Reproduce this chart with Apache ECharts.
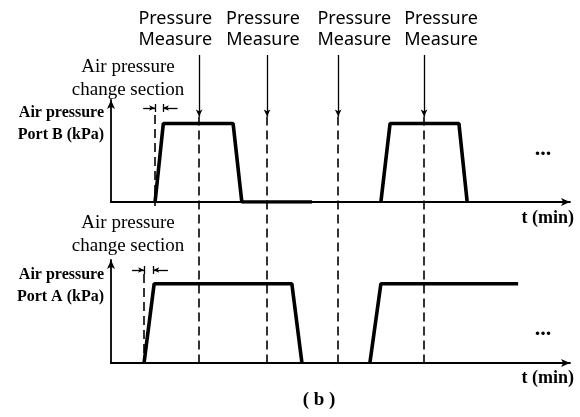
<!DOCTYPE html>
<html><head><meta charset="utf-8">
<script src="https://cdn.jsdelivr.net/npm/echarts@6/dist/echarts.min.js"></script>
<style>html,body{margin:0;padding:0;background:#fff}#c{width:580px;height:417px}</style>
</head><body><div id="c"></div>
<script>
// Time axis (arbitrary units, 0..100)
const tMax = 100;
const pMax = 1.3;
// Port B pressure trace (top panel): [t, level]
const portB1 = [[9.6,0],[11.4,1],[26.6,1],[28.5,0],[43.8,0]];
const portB2 = [[58.8,0],[60.8,1],[75.8,1],[77.6,0]];
// Port A pressure trace (bottom panel)
const portA = [[7.2,0],[9.4,1],[39.4,1],[41.6,0]];
const portA2 = [[56.4,0],[58.8,1],[88.7,1]];
// Measurement instants
const measureTimes = [19.2, 34.0, 49.5, 68.2];
const measureLabelTimes = [14.0, 33.1, 53.0, 71.9];
// Change-section bracket times
const changeB = [9.6, 11.3];
const changeA = [7.2, 9.2];
// overlay levels (fraction of overlay height, 0 = bottom baseline)
const lvlArrowTop = 1.0, lvlDashTop = 0.80;
const lvlBracketB = 0.828, lvlBracketA = 0.302;
const lvlChangeBBottom = 0.51, lvlChangeATop = 0.289;

const chart = echarts.init(document.getElementById('c'), null, {renderer:'canvas'});
const black = '#000';
const axisCommon = {
  axisTick:{show:false}, axisLabel:{show:false}, splitLine:{show:false},
};
function xAx(gi, show){
  return Object.assign({type:'value', gridIndex:gi, min:0, max:tMax, show:show,
    axisLine:{show:true, onZero:false, symbol:['none','arrow'], symbolSize:[6,9], lineStyle:{color:black, width:1.8}}}, axisCommon);
}
function yAx(gi, show, max){
  return Object.assign({type:'value', gridIndex:gi, min:0, max:max, show:show,
    axisLine:{show:true, symbol:['none','arrow'], symbolSize:[6,9], lineStyle:{color:black, width:1.8}}}, axisCommon);
}
const trace = (data, gi) => ({type:'line', xAxisIndex:gi, yAxisIndex:gi, data:data, symbol:'none',
  lineStyle:{color:black, width:3.6}, z:5});

const dashStyle = {color:black, width:1.6, type:[9,5]};
const mlData = [];
measureTimes.forEach(t=>{
  mlData.push([{coord:[t,lvlDashTop], symbol:'none', lineStyle:dashStyle},{coord:[t,0], symbol:'none'}]);
  mlData.push([{coord:[t,lvlArrowTop], symbol:'none', lineStyle:{color:black,width:1.3,type:'solid'}},{coord:[t,lvlDashTop], symbol:'arrow', symbolSize:[5,7]}]);
});
mlData.push([{coord:[changeB[0],lvlDashTop+0.005], symbol:'none', lineStyle:dashStyle},{coord:[changeB[0],lvlChangeBBottom], symbol:'none'}]);
mlData.push([{coord:[changeA[0],lvlChangeATop], symbol:'none', lineStyle:dashStyle},{coord:[changeA[0],0], symbol:'none'}]);
function bracket(c, lvl){
  const solid = {color:black,width:1.3,type:'solid'};
  const w = (c[1]-c[0]);
  mlData.push([{coord:[c[0],lvl+0.013], symbol:'none', lineStyle:solid},{coord:[c[0],lvl-0.013], symbol:'none'}]);
  mlData.push([{coord:[c[1],lvl+0.013], symbol:'none', lineStyle:solid},{coord:[c[1],lvl-0.013], symbol:'none'}]);
  mlData.push([{coord:[c[0]-2.6,lvl], symbol:'none', lineStyle:solid},{coord:[c[0],lvl], symbol:'arrow', symbolSize:[4,6]}]);
  mlData.push([{coord:[c[1]+3.2,lvl], symbol:'none', lineStyle:solid},{coord:[c[1],lvl], symbol:'arrow', symbolSize:[4,6]}]);
}
bracket(changeB, lvlBracketB);
bracket(changeA, lvlBracketA);

const sans = '"Noto Sans", sans-serif';
const serif = '"Liberation Serif", "Times New Roman", serif';
const graphics = [];
const measureX = measureLabelTimes.map(t => 111 + t*4.59);
measureX.forEach(x=>{
  graphics.push({type:'text', x:x, y:8, style:{text:'Pressure\nMeasure', font:'18px '+sans, fill:black, align:'center', verticalAlign:'top', lineHeight:21}});
});
graphics.push({type:'text', x:128, y:56, style:{text:'Air pressure\nchange section', font:'19px '+serif, fill:black, align:'center', verticalAlign:'top', lineHeight:23}});
graphics.push({type:'text', x:128, y:212, style:{text:'Air pressure\nchange section', font:'19px '+serif, fill:black, align:'center', verticalAlign:'top', lineHeight:23}});
graphics.push({type:'text', x:104, y:102, style:{text:'Air pressure\nPort B (kPa)', font:'bold 16px '+serif, fill:black, align:'right', verticalAlign:'top', lineHeight:22}});
graphics.push({type:'text', x:104, y:264, style:{text:'Air pressure\nPort A (kPa)', font:'bold 16px '+serif, fill:black, align:'right', verticalAlign:'top', lineHeight:22}});
graphics.push({type:'text', x:574, y:209, style:{text:'t (min)', font:'bold 18px '+serif, fill:black, align:'right', verticalAlign:'top'}});
graphics.push({type:'text', x:574, y:369, style:{text:'t (min)', font:'bold 18px '+serif, fill:black, align:'right', verticalAlign:'top'}});
graphics.push({type:'text', x:543, y:138, style:{text:'...', font:'bold 22px '+serif, fill:black, align:'center', verticalAlign:'top'}});
graphics.push({type:'text', x:543, y:318, style:{text:'...', font:'bold 22px '+serif, fill:black, align:'center', verticalAlign:'top'}});
graphics.push({type:'text', x:319, y:391, style:{text:'( b )', font:'bold 19px '+serif, fill:black, align:'center', verticalAlign:'top'}});

chart.setOption({
  animation:false,
  backgroundColor:'#fff',
  grid:[
    {left:111, width:459, top:100, height:102},
    {left:111, width:459, top:260, height:103},
    {left:111, width:459, top:55, height:308, show:false}
  ],
  xAxis:[xAx(0,true), xAx(1,true), xAx(2,false)],
  yAxis:[yAx(0,true,pMax), yAx(1,true,pMax), yAx(2,false,1)],
  series:[
    trace(portB1,0), trace(portB2,0), trace(portA,1), trace(portA2,1),
    {type:'line', xAxisIndex:2, yAxisIndex:2, data:[], silent:true,
     markLine:{silent:true, animation:false, label:{show:false}, symbol:['none','none'], data:mlData}}
  ],
  graphic:graphics
});
</script></body></html>
